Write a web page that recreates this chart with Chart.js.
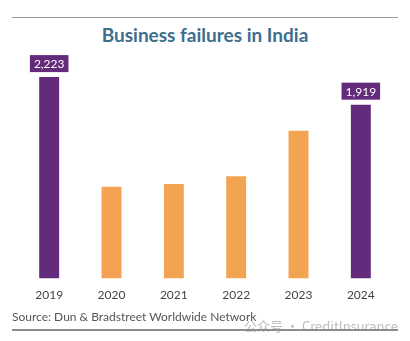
<!DOCTYPE html>
<html>
<head>
<meta charset="utf-8">
<script src="https://cdn.jsdelivr.net/npm/chart.js@4/dist/chart.umd.min.js"></script>
<style>
  body { margin: 0; background: #fff; }
  .wrap { position: relative; width: 410px; height: 341px; font-family: Lato, "Open Sans", sans-serif; }
  .rule { position: absolute; left: 12px; width: 386px; height: 1px; background: #9a9a9a; }
  #title { position: absolute; left: 0; top: 23px; width: 410px; text-align: center;
           font-size: 19px; font-weight: 700; color: #3d6e8c; }
  #source { position: absolute; left: 12px; top: 309px; font-size: 12px; color: #555; }
  #mark { position: absolute; right: 12px; top: 316px; font-size: 13px; color: #bdbdbd;
          font-family: "Noto Sans CJK SC", Lato, sans-serif; }
  canvas { position: absolute; left: 0; top: 0; }
</style>
</head>
<body>
<div class="wrap">
  <div class="rule" style="top:17px"></div>
  <div id="title">Business failures in India</div>
  <canvas id="failChart" width="410" height="341"></canvas>
  <div id="source">Source: Dun &amp; Bradstreet Worldwide Network</div>
  <div id="mark">公众号 · CreditInsurance</div>
  <div class="rule" style="top:329px;height:2px;background:#8c8c8c"></div>
</div>
<script>
const years = ['2019', '2020', '2021', '2022', '2023', '2024'];
const failures = [2223, 1013, 1043, 1129, 1632, 1919];
const labelled = [true, false, false, false, false, true];

const purple = '#642a7b';
const orange = '#f3a453';

// value boxes above the purple bars
const valueBoxes = {
    id: 'valueBoxes',
    afterDatasetsDraw(chart) {
        const ctx = chart.ctx;
        const meta = chart.getDatasetMeta(0);
        ctx.save();
        ctx.font = '12px Lato, sans-serif';
        ctx.textAlign = 'center';
        ctx.textBaseline = 'middle';
        meta.data.forEach((bar, i) => {
            if (!labelled[i]) return;
            const txt = failures[i].toLocaleString('en-US');
            const w = ctx.measureText(txt).width + 8;
            const h = 17;
            const y = bar.y - 5 - h;
            ctx.fillStyle = purple;
            ctx.fillRect(bar.x - w / 2, y, w, h);
            ctx.fillStyle = '#fff';
            ctx.fillText(txt, bar.x, y + h / 2 + 1);
        });
        ctx.restore();
    }
};

new Chart(document.getElementById('failChart').getContext('2d'), {
    type: 'bar',
    data: {
        labels: years,
        datasets: [{
            data: failures,
            backgroundColor: labelled.map(l => l ? purple : orange),
            borderWidth: 0,
            barPercentage: 0.64,
            categoryPercentage: 0.5
        }]
    },
    options: {
        responsive: false,
        animation: false,
        layout: { padding: { left: 18, right: 18, top: 52, bottom: 38 } },
        plugins: { legend: { display: false }, tooltip: { enabled: false } },
        scales: {
            x: {
                grid: { display: false },
                border: { display: false },
                ticks: { color: '#444', padding: 1, font: { family: 'Lato', size: 12 } }
            },
            y: { display: false, min: 0, max: 2500 }
        }
    },
    plugins: [valueBoxes]
});
</script>
</body>
</html>
